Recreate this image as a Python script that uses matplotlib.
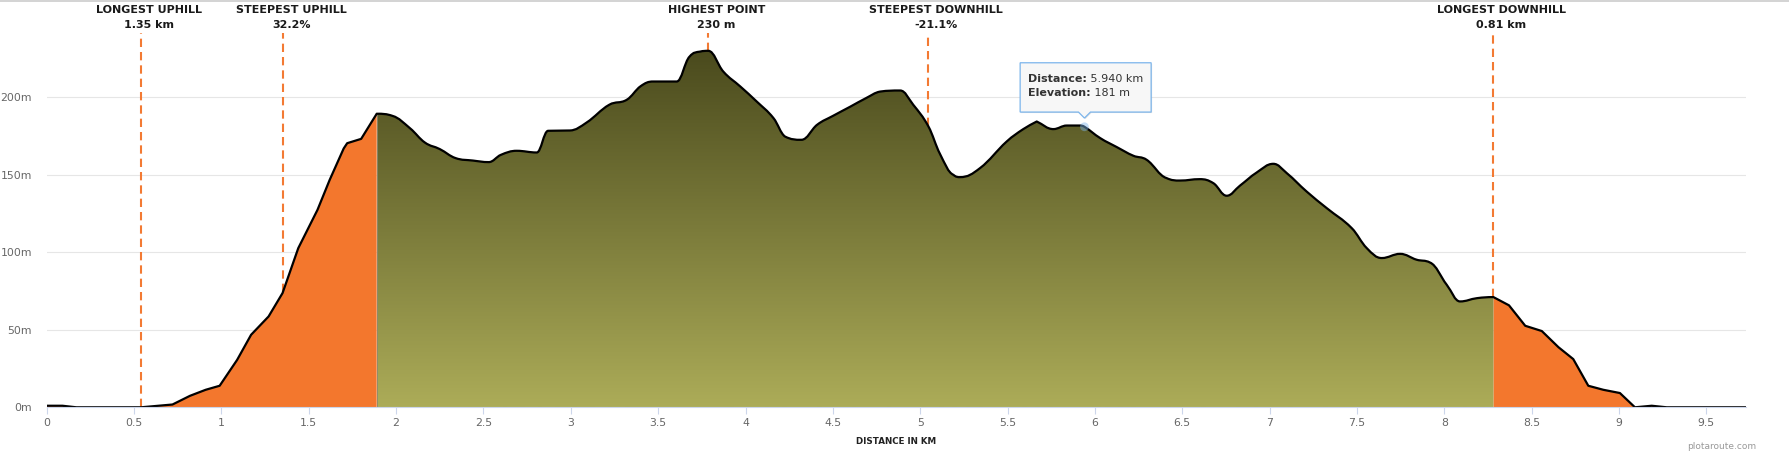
import matplotlib
matplotlib.use("Agg")
import matplotlib.pyplot as plt
import numpy as np
from matplotlib.patches import Polygon, PathPatch
from matplotlib.path import Path
from matplotlib.lines import Line2D
from matplotlib.colors import LinearSegmentedColormap
from matplotlib.transforms import IdentityTransform

# elevation profile
dist_km = [0.00, 0.09, 0.17, 0.54, 0.72, 0.82, 0.91, 0.99, 1.09, 1.17,
           1.27, 1.35, 1.44, 1.55, 1.62, 1.70, 1.72, 1.80, 1.889, 1.98,
           2.08, 2.165, 2.25, 2.34, 2.44, 2.53, 2.60, 2.69, 2.805, 2.87,
           2.995, 3.09, 3.22, 3.32, 3.40, 3.47, 3.606, 3.68, 3.74, 3.787,
           3.873, 3.97, 4.064, 4.16, 4.226, 4.32, 4.41, 4.50, 4.60, 4.69,
           4.77, 4.885, 4.96, 5.047, 5.113, 5.19, 5.228, 5.342, 5.495, 5.59,
           5.667, 5.762, 5.839, 5.915, 5.94, 6.03, 6.125, 6.22, 6.296, 6.41,
           6.487, 6.60, 6.678, 6.754, 6.83, 6.926, 7.021, 7.098, 7.212, 7.327,
           7.47, 7.556, 7.642, 7.747, 7.842, 7.918, 8.014, 8.09, 8.186, 8.281,
           8.37, 8.463, 8.558, 8.653, 8.738, 8.824, 8.91, 9.005, 9.091, 9.187,
           9.273, 9.725]
elev_m = [1, 1, 0, 0, 1.8, 7.4, 11.3, 13.9, 30.6, 46.8,
          58.6, 73.7, 102.7, 127.4, 146.8, 167, 170.4, 173.2, 189.4, 188,
          180, 170.8, 166.6, 160.8, 159.2, 158.2, 162.9, 165.5, 164.4, 178.4,
          178.6, 183.7, 195.2, 198.4, 207.2, 210.2, 210.2, 226.3, 229.5, 230,
          216.6, 207, 197.3, 186.6, 174.7, 172.6, 182.3, 188, 194, 199.5,
          203.7, 204.4, 195.2, 181.2, 163.5, 150, 148.5, 154.3, 171.5, 179.5,
          184.4, 179.5, 181.8, 181.8, 181, 173.7, 167.9, 162.3, 159.7, 147.9,
          146.3, 147.2, 144.6, 136.5, 143, 151.5, 157.1, 151.1, 139.2, 128.5,
          115.6, 102.7, 96.3, 99, 95.2, 93.4, 79, 68.3, 70.4, 71.1,
          65.8, 52.6, 49.2, 38.8, 31.1, 13.9, 11.3, 9.2, 0, 1,
          0, 0]

uphill_end = 1.889
downhill_start = 8.281

marker_x = [0.54, 1.353, 3.787, 5.045, 8.281]
marker_title = ["LONGEST UPHILL", "STEEPEST UPHILL", "HIGHEST POINT",
                "STEEPEST DOWNHILL", "LONGEST DOWNHILL"]
marker_value = ["1.35 km", "32.2%", "230 m", "-21.1%", "0.81 km"]

hover_x = 5.94
hover_y = 181

x_ticks = np.arange(0, 9.6, 0.5)
y_ticks = [0, 50, 100, 150, 200]

ORANGE = "#f3772d"
DASH = "#f37a33"
GRID = "#e6e6e6"
AXIS = "#ccd6eb"
TICKTXT = "#666666"


def spline_controls(xs, ys, a, b):
    """Bezier control points, spline style (smoothing 1.5) between a and b,
    straight segments elsewhere."""
    n = len(xs)
    lc = [(xs[i], ys[i]) for i in range(n)]
    rc = [(xs[i], ys[i]) for i in range(n)]
    s, d = 1.5, 2.5
    for i in range(max(a, 1), min(b, n - 2) + 1):
        lx = (s * xs[i] + xs[i - 1]) / d
        ly = (s * ys[i] + ys[i - 1]) / d
        rx = (s * xs[i] + xs[i + 1]) / d
        ry = (s * ys[i] + ys[i + 1]) / d
        if ry != ly:
            corr = (ry - ly) * (rx - xs[i]) / (rx - lx) + ys[i] - ry
            ly += corr
            ry += corr
            if ly > ys[i - 1] and ly > ys[i]:
                ly = max(ys[i - 1], ys[i]); ry = 2 * ys[i] - ly
            elif ly < ys[i - 1] and ly < ys[i]:
                ly = min(ys[i - 1], ys[i]); ry = 2 * ys[i] - ly
            if ry > ys[i + 1] and ry > ys[i]:
                ry = max(ys[i + 1], ys[i]); ly = 2 * ys[i] - ry
            elif ry < ys[i + 1] and ry < ys[i]:
                ry = min(ys[i + 1], ys[i]); ly = 2 * ys[i] - ry
        if i > a:
            lc[i] = (lx, ly)
        if i < b:
            rc[i] = (rx, ry)
    return lc, rc


def curve_path(xs, ys, lc, rc, a, b, closed):
    verts, codes = [], []
    if closed:
        verts += [(xs[a], 0), (xs[a], ys[a])]
        codes += [Path.MOVETO, Path.LINETO]
    else:
        verts.append((xs[a], ys[a]))
        codes.append(Path.MOVETO)
    for i in range(a + 1, b + 1):
        verts += [rc[i - 1], lc[i], (xs[i], ys[i])]
        codes += [Path.CURVE4] * 3
    if closed:
        verts += [(xs[b], 0), (xs[a], 0)]
        codes += [Path.LINETO, Path.CLOSEPOLY]
    return Path(verts, codes)


W, H = 1789, 454
fig = plt.figure(figsize=(W / 100, H / 100), dpi=100)
ax = fig.add_axes([46.7 / W, 1 - 407.3 / H, 1699 / W, 374.3 / H])

i_up = dist_km.index(uphill_end)
i_dn = dist_km.index(downhill_start)
last = len(dist_km) - 1
lc, rc = spline_controls(dist_km, elev_m, i_up, i_dn)

# orange sections
for a, b in [(0, i_up), (i_dn, last)]:
    ax.add_patch(PathPatch(curve_path(dist_km, elev_m, lc, rc, a, b, True),
                           facecolor=ORANGE, edgecolor="none", zorder=2))

# olive gradient section
clip = PathPatch(curve_path(dist_km, elev_m, lc, rc, i_up, i_dn, True),
                 facecolor="none", edgecolor="none", transform=ax.transData)
ax.add_patch(clip)
cmap = LinearSegmentedColormap.from_list("olive", ["#acac58", "#4a4a1d"])
grad = np.linspace(0, 1, 256).reshape(-1, 1)
im = ax.imshow(grad, extent=[uphill_end, downhill_start, 0, max(elev_m)],
               origin="lower", aspect="auto", cmap=cmap, zorder=2,
               interpolation="bilinear")
im.set_clip_path(clip)
ax.plot([uphill_end, uphill_end], [0, elev_m[i_up]], color="#8a8a70", lw=0.6,
        zorder=3)

ax.add_patch(PathPatch(curve_path(dist_km, elev_m, lc, rc, 0, last, False),
                       facecolor="none", edgecolor="black", lw=1.6, zorder=5,
                       joinstyle="round", capstyle="round"))

ax.set_xlim(0, 9.725)
ax.set_ylim(0, 241.5)

# grid + axes
for v in y_ticks[1:]:
    ax.axhline(v, color=GRID, lw=0.8, zorder=1)
for s in ["top", "right", "left"]:
    ax.spines[s].set_visible(False)
ax.spines["bottom"].set_color(AXIS)
ax.spines["bottom"].set_linewidth(0.8)
ax.spines["bottom"].set_zorder(6)

ax.set_xticks(x_ticks)
ax.set_xticklabels(["%g" % t for t in x_ticks])
ax.set_yticks(y_ticks)
ax.set_yticklabels(["%dm" % v for v in y_ticks])
ax.tick_params(axis="x", length=5, width=0.8, color=AXIS, labelcolor=TICKTXT,
               labelsize=7.8, pad=3)
ax.tick_params(axis="y", length=0, labelcolor=TICKTXT, labelsize=7.8, pad=10.6)

# marker lines and labels
x = np.array(dist_km)
y = np.array(elev_m)
for mx, title, val in zip(marker_x, marker_title, marker_value):
    ground = np.interp(mx, x, y)
    ax.plot([mx, mx], [ground, 241.5], color=DASH, lw=1.5, dashes=(4, 2.4),
            zorder=4, clip_on=False)
    ax.annotate(title, xy=(mx, 1), xycoords=("data", "axes fraction"),
                xytext=(5.8, 16.6), textcoords="offset points",
                ha="center", va="center", fontsize=8, fontweight="bold",
                color="#1a1a1a", annotation_clip=False)
    ax.annotate(val, xy=(mx, 1), xycoords=("data", "axes fraction"),
                xytext=(5.8, 5.8), textcoords="offset points",
                ha="center", va="center", fontsize=8, fontweight="bold",
                color="#1a1a1a", annotation_clip=False)

fig.text(896 / W, 1 - 442 / H, "DISTANCE IN KM", ha="center", va="center",
         fontsize=6.3, fontweight="bold", color="#222222")
fig.text(1722 / W, 1 - 446.7 / H, "plotaroute.com", ha="center", va="center",
         fontsize=6.5, color="#999999")
fig.add_artist(Line2D([0, 1], [1 - 0.8 / H, 1 - 0.8 / H], transform=fig.transFigure,
                      color="#cccccc", lw=1.2))

# hover marker + tooltip
ax.scatter([hover_x], [hover_y], s=40, color="#7cb5ec", alpha=0.45, zorder=6,
           edgecolors="none")
px, py = ax.transData.transform((hover_x, hover_y))
L, R = px - 64.3, px + 66.7
T, B = py + 64, py + 14.7
tip = [(L, B), (px - 6, B), (px, B - 6), (px + 6, B), (R, B), (R, T), (L, T)]
shadow = Polygon([(a + 1, b - 1) for a, b in tip], closed=True,
                 transform=IdentityTransform(), facecolor="#000000", alpha=0.12,
                 edgecolor="none", zorder=9)
box = Polygon(tip, closed=True, transform=IdentityTransform(),
              facecolor="#f7f7f7", edgecolor="#7cb5ec", lw=0.9, zorder=10)
fig.add_artist(shadow)
fig.add_artist(box)

rend = fig.canvas.get_renderer()
for dy, key, val in [(47.7, "Distance:", " 5.940 km"), (33.7, "Elevation:", " 181 m")]:
    t1 = fig.text(L + 8.3, py + dy, key, transform=IdentityTransform(),
                  ha="left", va="center", fontsize=8, fontweight="bold",
                  color="#333333", zorder=11)
    ext = t1.get_window_extent(rend)
    fig.text(ext.x1, py + dy, val, transform=IdentityTransform(),
             ha="left", va="center", fontsize=8, color="#333333", zorder=11)

fig.savefig("out.png", dpi=100, facecolor="white")
